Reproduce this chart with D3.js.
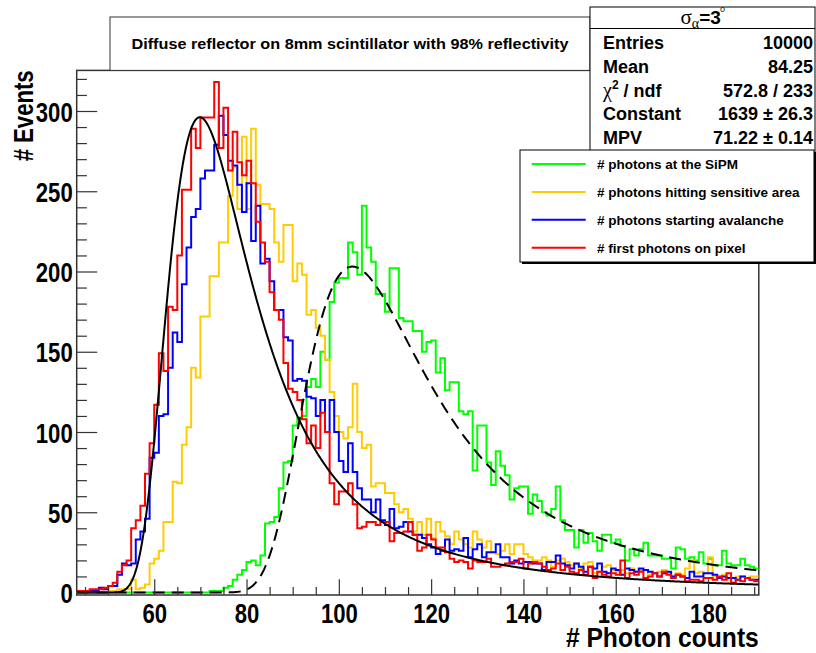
<!DOCTYPE html>
<html>
<head>
<meta charset="utf-8">
<script src="https://cdn.jsdelivr.net/npm/d3@7"></script>
<style>
  body { margin: 0; background: #fff; }
  svg { display: block; }
  text { font-family: "Liberation Sans", Arial, Helvetica, sans-serif; font-weight: bold; fill: #000; }
</style>
</head>
<body>
<svg id="chart" width="816" height="653"></svg>
<script>
// Histograms: one entry per photon-count bin of width 1, first bin starts at binStart.
const binStart = 43;

const photonsAtSiPM = [
  0,0,0,0,0,0,0,0,0,0,
  0,0,0,0,0,0,0,0,0,0,
  0,0,0,0,0,0,0,0,0,1,
  1,1,3,4,8,11,14,19,20,17,
  23,43,44,47,65,81,82,104,109,110,
  128,133,128,150,145,181,193,196,196,218,
  212,198,241,215,206,186,186,175,202,202,
  171,169,169,163,163,150,156,157,137,146,
  126,131,131,113,111,113,76,104,104,81,
  67,88,79,73,58,65,66,66,49,61,
  57,50,48,52,66,45,39,39,28,39,
  31,37,32,26,36,36,31,33,29,20,
  27,23,27,31,23,23,23,21,21,15,
  28,27,21,22,20,25,18,21,17,17,
  26,18,17,17,21,17,16,15
];

const photonsHittingSensitive = [
  0,0,0,0,0,0,0,1,1,2,
  2,2,8,2,3,5,18,21,26,44,
  44,69,68,92,103,140,134,172,172,197,
  197,218,218,247,265,239,284,239,289,254,
  242,242,239,218,206,229,229,194,205,198,
  173,176,165,160,145,125,110,100,96,103,
  130,100,90,92,66,68,68,62,62,55,
  50,52,46,38,44,36,46,34,44,38,
  35,30,38,33,30,28,38,33,28,32,
  25,24,26,30,24,30,30,24,22,20,
  20,22,20,16,20,21,19,17,18,15,
  18,19,12,13,16,17,14,13,14,12,
  15,13,14,14,11,12,13,14,12,10,
  12,11,15,20,12,13,12,22,10,9,
  11,8,9,10,10,9,10,10
];

const photonsStartingAvalanche = [
  1,1,1,1,1,3,2,4,4,11,
  18,17,18,33,38,46,84,87,110,111,
  140,162,156,192,215,234,239,258,263,263,
  279,297,285,269,266,254,237,255,219,241,
  205,208,194,176,176,159,157,132,133,132,
  122,121,110,120,100,120,100,82,75,93,
  75,65,58,58,50,58,45,42,52,40,
  41,44,38,36,36,34,30,28,24,26,
  33,26,27,26,34,22,27,30,22,25,
  25,30,22,22,18,20,18,19,19,18,
  18,14,19,19,23,18,17,15,18,16,
  13,16,15,18,13,12,15,14,11,15,
  14,13,15,14,13,12,10,12,13,10,
  11,10,9,13,10,10,12,12,11,9,
  10,9,9,8,10,9,8,8
];

const firstPhotonsOnPixel = [
  1,1,1,2,2,2,3,4,6,13,
  17,20,40,45,54,74,93,117,149,138,
  178,176,210,251,251,289,277,296,296,296,
  318,277,302,263,287,268,260,269,255,231,
  218,206,187,176,170,143,127,125,120,108,
  93,104,90,112,100,68,55,63,63,68,
  55,40,41,44,44,42,44,44,32,37,
  37,38,44,36,26,28,36,33,28,28,
  25,21,19,20,19,15,20,19,19,21,
  16,16,17,18,19,19,21,15,18,19,
  18,16,14,15,18,14,16,13,12,14,
  11,16,9,13,11,10,12,11,20,9,
  12,11,13,9,10,12,10,13,11,9,
  11,10,7,8,8,7,9,9,8,10,
  8,12,6,8,7,9,8,7
];

const seriesNames = [
  "# photons at the SiPM",
  "# photons hitting sensitive area",
  "# photons starting avalanche",
  "# first photons on pixel"
];
const seriesColors = ["#00ff00", "#ffcc00", "#0000ff", "#ff0000"];

const xTickValues = [60, 80, 100, 120, 140, 160, 180];
const yTickValues = [0, 50, 100, 150, 200, 250, 300];

// Landau fit parameters (constant, most probable value, width)
const fitFirstPhotons = { constant: 1639, mpv: 71.22, sigma: 6.0 };
const fitAtSiPM = { constant: 1124, mpv: 104.9, sigma: 8.7 };

const statsRows = [
  ["Entries", "10000"],
  ["Mean", "84.25"],
  ["chi", "572.8 / 233"],
  ["Constant", "1639 \u00b1 26.3"],
  ["MPV", "71.22 \u00b1 0.14"]
];

// ---------------------------------------------------------------
// Landau density (CERNLIB DENLAN rational approximations)
function landauPdf(v) {
  const p1 = [0.4259894875, -0.1249762550, 0.03984243700, -0.006298287635, 0.001511162253];
  const q1 = [1.0, -0.3388260629, 0.09594393323, -0.01608042283, 0.003778942063];
  const p2 = [0.1788541609, 0.1173957403, 0.01488850518, -0.001394989411, 0.0001283617211];
  const q2 = [1.0, 0.7428795082, 0.3153932961, 0.06694219548, 0.008790609714];
  const p3 = [0.1788544503, 0.09359161662, 0.006325387654, 0.00006611667319, -0.000002031049101];
  const q3 = [1.0, 0.6097809921, 0.2560616665, 0.04746722384, 0.006957301675];
  const p4 = [0.9874054407, 118.6723273, 849.2794360, -743.7792444, 427.0262186];
  const q4 = [1.0, 106.8615961, 337.6496214, 2016.712389, 1597.063511];
  const p5 = [1.003675074, 167.5702434, 4789.711289, 21217.86767, -22324.94910];
  const q5 = [1.0, 156.9424537, 3745.310488, 9834.698876, 66924.28357];
  const p6 = [1.000827619, 664.9143136, 62972.92665, 475554.6998, -5743609.109];
  const q6 = [1.0, 651.4101098, 56974.73333, 165917.4725, -2815759.939];
  const a1 = [0.04166666667, -0.01996527778, 0.02709538966];
  const a2 = [-1.845568670, -4.284640743];
  const poly = (c, t) => c[0] + (c[1] + (c[2] + (c[3] + c[4] * t) * t) * t) * t;
  let u;
  if (v < -5.5) {
    u = Math.exp(v + 1.0);
    if (u < 1e-10) return 0;
    return 0.3989422803 * (Math.exp(-1 / u) / Math.sqrt(u)) * (1 + (a1[0] + (a1[1] + a1[2] * u) * u) * u);
  } else if (v < -1) {
    u = Math.exp(-v - 1);
    return Math.exp(-u) * Math.sqrt(u) * poly(p1, v) / poly(q1, v);
  } else if (v < 1) {
    return poly(p2, v) / poly(q2, v);
  } else if (v < 5) {
    return poly(p3, v) / poly(q3, v);
  } else if (v < 12) {
    u = 1 / v;
    return u * u * poly(p4, u) / poly(q4, u);
  } else if (v < 50) {
    u = 1 / v;
    return u * u * poly(p5, u) / poly(q5, u);
  } else if (v < 300) {
    u = 1 / v;
    return u * u * poly(p6, u) / poly(q6, u);
  }
  u = 1 / (v - v * Math.log(v) / (v + 1));
  return u * u * (1 + (a2[0] + a2[1] * u) * u);
}
const landau = (f, x) => f.constant * landauPdf((x - f.mpv) / f.sigma);

// ---------------------------------------------------------------
const svg = d3.select("#chart");
const frame = { left: 76.7, right: 758.8, top: 70.4, bottom: 595 };

const x = d3.scaleLinear().domain([43.2, 191.0]).range([frame.left, frame.right]);
const y = d3.scaleLinear().domain([-1.56, 325.3]).range([frame.bottom, frame.top]);

svg.append("defs").append("clipPath").attr("id", "plotClip")
  .append("rect")
  .attr("x", frame.left).attr("y", frame.top - 2)
  .attr("width", frame.right - frame.left).attr("height", frame.bottom - frame.top + 2);

// frame
svg.append("rect")
  .attr("x", frame.left).attr("y", frame.top)
  .attr("width", frame.right - frame.left).attr("height", frame.bottom - frame.top)
  .attr("fill", "none").attr("stroke", "#333").attr("stroke-width", 1.5);

// histograms as step outlines
const plot = svg.append("g").attr("clip-path", "url(#plotClip)");
const allSeries = [photonsAtSiPM, photonsHittingSensitive, photonsStartingAvalanche, firstPhotonsOnPixel];
const stepLine = d3.line().x(d => x(d[0])).y(d => y(d[1])).curve(d3.curveStepAfter);

allSeries.forEach((vals, i) => {
  const pts = vals.map((v, k) => [binStart + k, v]);
  pts.push([binStart + vals.length, vals[vals.length - 1]]);
  plot.append("path")
    .attr("d", stepLine(pts))
    .attr("fill", "none")
    .attr("stroke", seriesColors[i])
    .attr("stroke-width", 2)
    .attr("stroke-linejoin", "miter");
});

// fitted Landau curves
const xs = d3.range(43.2, 191.01, 0.2);
const curve = d3.line().x(d => x(d[0])).y(d => y(d[1]));
plot.append("path")
  .attr("d", curve(xs.map(v => [v, landau(fitAtSiPM, v)])))
  .attr("fill", "none").attr("stroke", "#000").attr("stroke-width", 2)
  .attr("stroke-dasharray", "12,7");
plot.append("path")
  .attr("d", curve(xs.map(v => [v, landau(fitFirstPhotons, v)])))
  .attr("fill", "none").attr("stroke", "#000").attr("stroke-width", 2);

// axes (ticks drawn inside the frame)
const labelScale = 0.79;
const yAxis = svg.append("g").attr("transform", `translate(${frame.left},0)`)
  .call(d3.axisLeft(y).tickValues(yTickValues).tickSize(-20.5).tickPadding(4 / labelScale).tickFormat(d3.format("d")));
svg.append("g").attr("transform", `translate(${frame.left},0)`)
  .call(d3.axisLeft(y).tickValues(d3.range(0, 321, 10).filter(v => v % 50 !== 0)).tickSize(-10.2).tickFormat(""));
const xAxis = svg.append("g").attr("transform", `translate(0,${frame.bottom})`)
  .call(d3.axisBottom(x).tickValues(xTickValues).tickSize(-15.7).tickPadding(8).tickFormat(d3.format("d")));
svg.append("g").attr("transform", `translate(0,${frame.bottom})`)
  .call(d3.axisBottom(x).tickValues(d3.range(45, 191, 5).filter(v => v % 20 !== 0)).tickSize(-7.9).tickFormat(""));

svg.selectAll(".domain").remove();
svg.selectAll(".tick line").attr("stroke", "#333").attr("stroke-width", 1.2);
yAxis.selectAll("text").attr("font-size", 28).attr("dy", "0.36em")
  .attr("transform", `scale(${labelScale},1)`).style("font-family", "'Liberation Sans', Arial, sans-serif").style("font-weight", "bold");
xAxis.selectAll("text").attr("font-size", 28).attr("dy", "0.71em")
  .attr("transform", `scale(${labelScale},1)`).style("font-family", "'Liberation Sans', Arial, sans-serif").style("font-weight", "bold");

// axis titles
svg.append("text")
  .attr("transform", `translate(${frame.right},646.5) scale(0.88,1)`)
  .attr("text-anchor", "end").attr("font-size", 28)
  .text("# Photon counts");
svg.append("text")
  .attr("transform", `translate(33,${frame.top}) rotate(-90) scale(${labelScale},1)`)
  .attr("text-anchor", "end").attr("font-size", 28)
  .text("# Events");

// title box
svg.append("rect").attr("x", 110).attr("y", 17).attr("width", 480).attr("height", 53.4)
  .attr("fill", "#fff").attr("stroke", "#333").attr("stroke-width", 1);
svg.append("text").attr("x", 350).attr("y", 48.5).attr("text-anchor", "middle")
  .attr("font-size", 15).attr("textLength", 437).attr("lengthAdjust", "spacingAndGlyphs")
  .text("Diffuse reflector on 8mm scintillator with 98% reflectivity");

// statistics box
const stats = svg.append("g");
stats.append("rect").attr("x", 590).attr("y", 7).attr("width", 225).attr("height", 170)
  .attr("fill", "#fff").attr("stroke", "#000").attr("stroke-width", 1);
stats.append("line").attr("x1", 590).attr("x2", 815).attr("y1", 28.5).attr("y2", 28.5)
  .attr("stroke", "#000").attr("stroke-width", 1);
const head = stats.append("text").attr("x", 703).attr("y", 24).attr("text-anchor", "middle");
head.append("tspan").style("font-family", "'Liberation Serif', 'Times New Roman', serif")
  .style("font-weight", "normal").attr("font-size", 21).text("\u03c3");
head.append("tspan").style("font-family", "'Liberation Serif', 'Times New Roman', serif")
  .style("font-weight", "normal").attr("font-size", 14).attr("dy", 4).text("\u03b1");
head.append("tspan").attr("font-size", 19).attr("dy", -4).text("=3");
head.append("tspan").style("font-family", "'Liberation Serif', 'Times New Roman', serif")
  .style("font-weight", "normal").attr("font-size", 14).attr("dy", -7).attr("dx", -1).text("\u00b0");

statsRows.forEach((r, i) => {
  const yy = 49 + i * 23.8;
  const lab = stats.append("text").attr("x", 603).attr("y", yy).attr("font-size", 18);
  if (r[0] === "chi") {
    lab.append("tspan").style("font-family", "'Liberation Serif', 'Times New Roman', serif")
      .style("font-weight", "normal").attr("font-size", 20).text("\u03c7");
    lab.append("tspan").attr("font-size", 12).attr("dy", -8).text("2");
    lab.append("tspan").attr("dy", 8).text(" / ndf");
  } else {
    lab.text(r[0]);
  }
  stats.append("text").attr("x", 813).attr("y", yy).attr("text-anchor", "end")
    .attr("font-size", 18).text(r[1]);
});

// legend
const leg = svg.append("g");
leg.append("rect").attr("x", 522).attr("y", 152).attr("width", 294).attr("height", 112).attr("fill", "#000");
leg.append("rect").attr("x", 520).attr("y", 150).attr("width", 294).attr("height", 112)
  .attr("fill", "#fff").attr("stroke", "#000").attr("stroke-width", 1);
seriesNames.forEach((name, i) => {
  const yy = 164 + i * 27.9;
  leg.append("line").attr("x1", 531.7).attr("x2", 585.7).attr("y1", yy).attr("y2", yy)
    .attr("stroke", seriesColors[i]).attr("stroke-width", 2);
  leg.append("text").attr("x", 597).attr("y", yy + 5).attr("font-size", 13.5).text(name);
});
</script>
</body>
</html>
